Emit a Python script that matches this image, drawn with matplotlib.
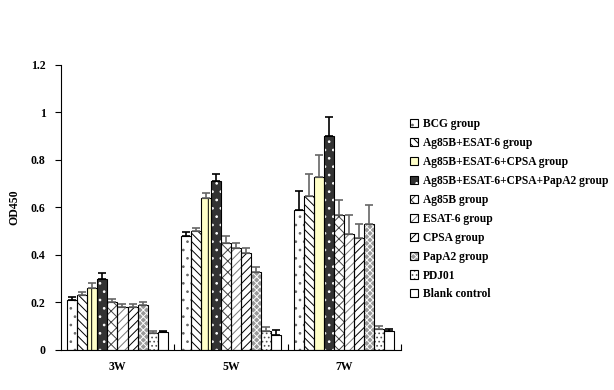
import matplotlib
matplotlib.use("Agg")
import matplotlib.pyplot as plt
import numpy as np
from matplotlib.patches import Patch
from matplotlib.legend_handler import HandlerTuple

plt.rcParams['font.family'] = ['Liberation Serif', 'DejaVu Serif']
plt.rcParams['font.weight'] = 'bold'
plt.rcParams['hatch.linewidth'] = 0.7

weeks = ["3W", "5W", "7W"]
groups = ["BCG group", "Ag85B+ESAT-6 group", "Ag85B+ESAT-6+CPSA group",
          "Ag85B+ESAT-6+CPSA+PapA2 group", "Ag85B group", "ESAT-6 group",
          "CPSA group", "PapA2 group", "PDJ01", "Blank control"]

od_3w = [0.21, 0.23, 0.26, 0.30, 0.20, 0.18, 0.18, 0.19, 0.07, 0.075]
od_5w = [0.48, 0.50, 0.64, 0.71, 0.45, 0.43, 0.41, 0.33, 0.08, 0.065]
od_7w = [0.59, 0.65, 0.73, 0.90, 0.57, 0.49, 0.47, 0.53, 0.09, 0.08]
err_3w = [0.015, 0.015, 0.02, 0.025, 0.015, 0.015, 0.015, 0.01, 0.008, 0.005]
err_5w = [0.015, 0.015, 0.02, 0.03, 0.03, 0.02, 0.02, 0.02, 0.015, 0.02]
err_7w = [0.08, 0.09, 0.09, 0.08, 0.06, 0.08, 0.06, 0.08, 0.01, 0.01]

values = np.array([od_3w, od_5w, od_7w])
errors = np.array([err_3w, err_5w, err_7w])

# style: (facecolor, hatch, hatch colour)
styles = [
    ("white", "..", "#666666"),
    ("white", "\\\\\\\\", "black"),
    ("#FFFFC8", "|", "black"),
    ("#333333", "..", "white"),
    ("white", "xxx", "#444444"),
    ("white", "////", "#777777"),
    ("white", "////", "black"),
    ("#999999", "xxxxx", "white"),
    ("white", "....", "#555555"),
    ("white", "", "black"),
]
err_colors = ["black", "#666666", "#666666", "black", "#666666",
              "#666666", "#666666", "#666666", "#666666", "black"]

fig = plt.figure(figsize=(6.14, 3.90), dpi=100)
ax = fig.add_axes([0.099, 0.1026, 0.554, 0.7308])

n = len(groups)
bw = 0.0885
x = np.arange(len(weeks))
handles = []
for i in range(n):
    pos = x + (i - (n - 1) / 2) * bw
    fc, hatch, hc = styles[i]
    ax.bar(pos, values[:, i], bw, facecolor=fc, edgecolor=hc, hatch=hatch,
           linewidth=0, zorder=2)
    ax.bar(pos, values[:, i], bw, facecolor="none", edgecolor="black",
           linewidth=0.8, zorder=3)
    ax.errorbar(pos, values[:, i], yerr=[np.zeros(3), errors[:, i]],
                fmt="none", ecolor=err_colors[i], elinewidth=1.2, capsize=3,
                capthick=1.2, zorder=4)
    h1 = Patch(facecolor=fc, edgecolor=hc, hatch=hatch, linewidth=0)
    h2 = Patch(facecolor="none", edgecolor="black", linewidth=0.8)
    handles.append((h1, h2))

ax.set_xlim(-0.5, 2.5)
ax.set_ylim(0, 1.2)
ax.set_yticks(np.arange(0, 1.21, 0.2))
ax.set_yticklabels(["0", "0.2", "0.4", "0.6", "0.8", "1", "1.2"])
ax.set_xticks(x)
ax.set_xticklabels(weeks)
ax.set_xticks([0.5, 1.5, 2.5], minor=True)
ax.tick_params(axis="x", which="major", length=0, labelsize=8.5, pad=8)
ax.tick_params(axis="x", which="minor", length=4, direction="in", width=0.8)
ax.tick_params(axis="y", length=4, direction="out", width=0.8, labelsize=8.5, pad=7)
for lbl in ax.get_xticklabels() + ax.get_yticklabels():
    lbl.set_fontweight("bold")
ax.spines["top"].set_visible(False)
ax.spines["right"].set_visible(False)
ax.spines["left"].set_linewidth(0.8)
ax.spines["bottom"].set_linewidth(0.8)
ax.set_ylabel("OD450", fontsize=8.5, fontweight="bold")
ax.yaxis.set_label_coords(-0.118, 0.5)

fig.legend(handles, groups, handler_map={tuple: HandlerTuple(ndivide=1, pad=0)},
           loc="upper left", bbox_to_anchor=(0.668, 0.697), frameon=False,
           handlelength=0.7, handleheight=0.7, handletextpad=0.4,
           labelspacing=0.6, borderaxespad=0, borderpad=0,
           prop={"weight": "bold", "size": 8.3})

fig.savefig("out.png", dpi=100)
